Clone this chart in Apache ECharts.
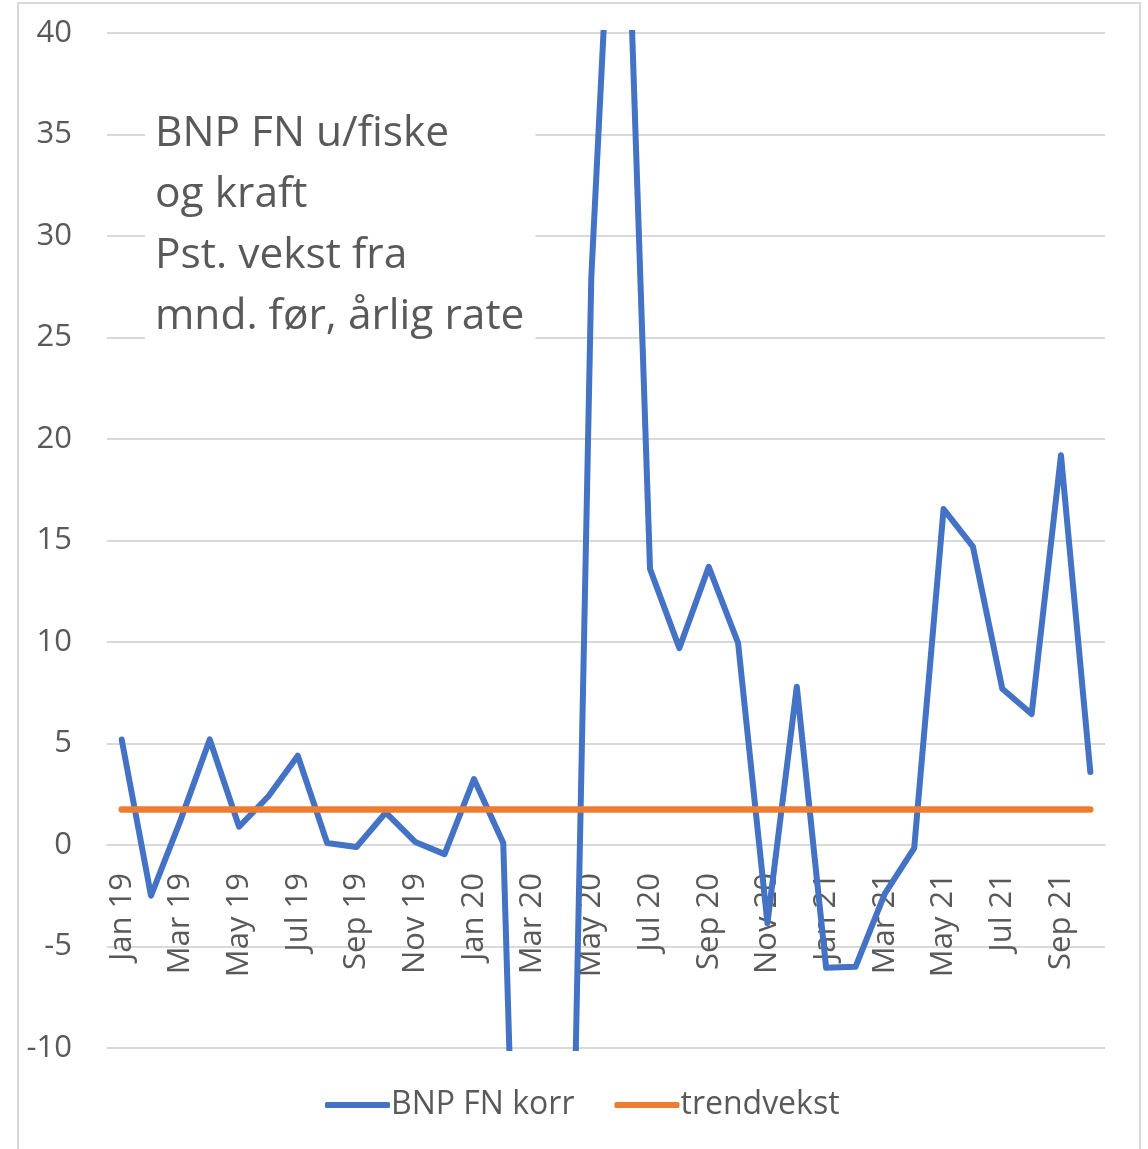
<!DOCTYPE html>
<html>
<head>
<meta charset="utf-8">
<script src="https://cdn.jsdelivr.net/npm/echarts@6/dist/echarts.min.js"></script>
<style>
  html, body { margin: 0; padding: 0; background: #fff; }
  #chart { width: 1148px; height: 1149px; }
</style>
</head>
<body>
<div id="chart"></div>
<script>
// månedene
var months = ['Jan 19', 'Feb 19', 'Mar 19', 'Apr 19', 'May 19', 'Jun 19', 'Jul 19', 'Aug 19', 'Sep 19', 'Oct 19', 'Nov 19', 'Dec 19',
    'Jan 20', 'Feb 20', 'Mar 20', 'Apr 20', 'May 20', 'Jun 20', 'Jul 20', 'Aug 20', 'Sep 20', 'Oct 20', 'Nov 20', 'Dec 20',
    'Jan 21', 'Feb 21', 'Mar 21', 'Apr 21', 'May 21', 'Jun 21', 'Jul 21', 'Aug 21', 'Sep 21', 'Oct 21'];

// BNP FN korr, pst. vekst fra mnd. før, årlig rate
var bnpFnKorr = [5.2, -2.5, 1.2, 5.2, 0.9, 2.4, 4.4, 0.1, -0.1, 1.6, 0.15, -0.45,
    3.25, 0.1, -49, -44, 28.0, 57.0, 13.6, 9.7, 13.7, 9.95, -3.85, 7.8,
    -6.05, -6.0, -2.4, -0.15, 16.55, 14.7, 7.7, 6.45, 19.2, 3.6];

// trendvekst (flat)
var trendvekst = [1.75, 1.75, 1.75, 1.75, 1.75, 1.75, 1.75, 1.75, 1.75, 1.75, 1.75, 1.75,
    1.75, 1.75, 1.75, 1.75, 1.75, 1.75, 1.75, 1.75, 1.75, 1.75, 1.75, 1.75,
    1.75, 1.75, 1.75, 1.75, 1.75, 1.75, 1.75, 1.75, 1.75, 1.75];

var yMin = -10;
var yMax = 40;
var yStep = 5;

var titleLines = ['BNP FN u/fiske', 'og kraft', 'Pst. vekst fra', 'mnd. før, årlig rate'];

var FONT = 'Open Sans';
var TEXT = '#595959';
var GRID = '#d9d9d9';

// plassering av plottet
var H = 1149, TOP = 33, BOTTOM = 101;
var plotH = H - TOP - BOTTOM;
// x-aksen ligger på null, ikke i bunnen
var zeroOffset = -plotH * (0 - yMin) / (yMax - yMin);

function lineSeries(name, data, color, width) {
    return {
        name: name,
        type: 'line',
        data: data,
        symbol: 'none',
        clip: true,
        z: width > 6 ? 3 : 2,
        lineStyle: { color: color, width: width, cap: 'round', join: 'round' },
        itemStyle: { color: color }
    };
}

var option = {
    animation: false,
    backgroundColor: '#fff',
    textStyle: { fontFamily: FONT },
    title: {
        text: titleLines.join('\n'),
        left: 145,
        top: 99,
        padding: [4, 11, 14, 10],
        backgroundColor: '#fff',
        textStyle: {
            fontFamily: FONT,
            fontSize: 42.5,
            fontWeight: 'normal',
            color: TEXT,
            lineHeight: 61
        }
    },
    legend: {
        left: 320,
        top: 1084,
        icon: 'roundRect',
        itemWidth: 65,
        itemHeight: 6,
        itemGap: 40,
        textStyle: { fontFamily: FONT, fontSize: 32, color: TEXT, padding: [0, 0, 0, -4] },
        data: ['BNP FN korr', 'trendvekst']
    },
    grid: { left: 107, right: 43, top: TOP, bottom: BOTTOM, containLabel: false, outerBoundsMode: 'none' },
    xAxis: {
        type: 'category',
        data: months,
        boundaryGap: true,
        offset: zeroOffset,
        axisLine: { onZero: false, lineStyle: { color: GRID, width: 2 } },
        axisTick: { show: false },
        axisLabel: {
            interval: 1,
            rotate: 90,
            margin: 28,
            fontFamily: FONT,
            fontSize: 31,
            color: TEXT
        }
    },
    yAxis: {
        type: 'value',
        min: yMin,
        max: yMax,
        interval: yStep,
        axisLine: { show: false },
        axisTick: { show: false },
        axisLabel: { margin: 35, fontFamily: FONT, fontSize: 31, color: TEXT },
        splitLine: { lineStyle: { color: GRID, width: 2 } }
    },
    graphic: [{
        // ramme rundt diagrammet
        type: 'rect',
        silent: true,
        shape: { x: 18, y: 3, width: 1122, height: 1160 },
        style: { fill: 'none', stroke: GRID, lineWidth: 2 }
    }],
    series: [
        lineSeries('BNP FN korr', bnpFnKorr, '#4472C4', 6),
        lineSeries('trendvekst', trendvekst, '#ED7D31', 6.5)
    ]
};

var chart = echarts.init(document.getElementById('chart'));
chart.setOption(option);
</script>
</body>
</html>
